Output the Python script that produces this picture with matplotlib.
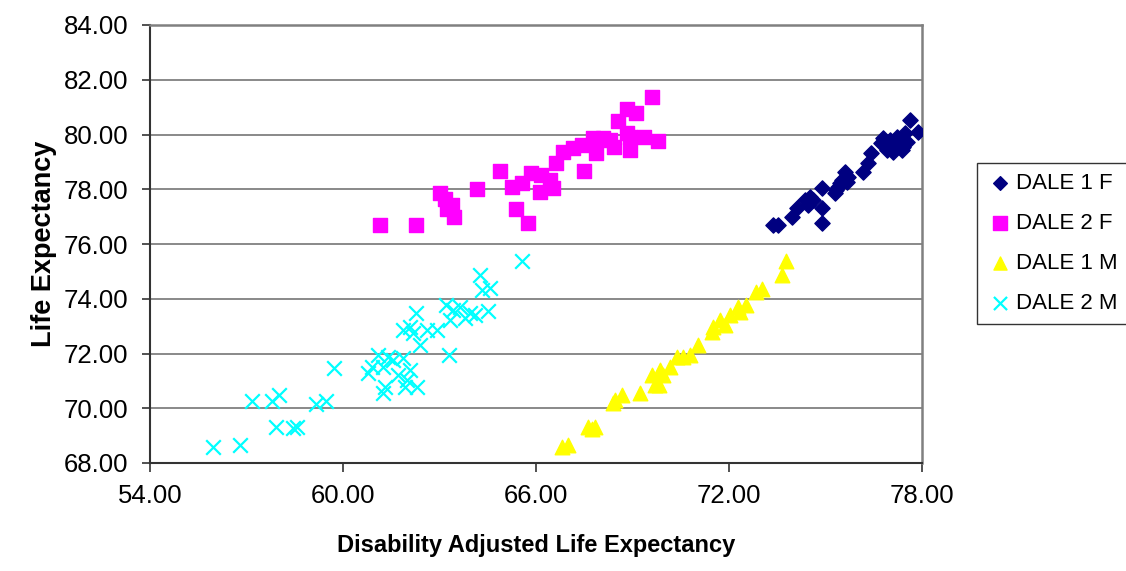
import matplotlib
matplotlib.use("Agg")
import matplotlib.pyplot as plt

plt.rcParams['font.family'] = ['Liberation Sans', 'DejaVu Sans']

# DALE 1 F (navy diamonds)
dale1f_x = [73.37, 73.53, 73.95, 74.10, 74.36, 74.52, 74.62, 74.46, 74.88, 74.88, 74.88,
            75.29, 75.40, 75.50, 75.61, 75.71, 75.45, 75.66, 75.34, 76.17, 76.33, 76.43,
            76.74, 76.79, 76.90, 77.00, 77.11, 77.21, 77.31, 77.37, 77.47, 77.52, 77.42,
            77.11, 77.62, 77.88]
dale1f_y = [76.69, 76.69, 77.00, 77.30, 77.61, 77.73, 77.61, 77.42, 78.03, 77.30, 76.76,
            77.85, 78.09, 78.34, 78.64, 78.46, 78.22, 78.28, 77.97, 78.64, 78.95, 79.31,
            79.68, 79.86, 79.43, 79.80, 79.68, 79.92, 79.80, 79.43, 80.04, 79.74, 79.56,
            79.37, 80.53, 80.08]

# DALE 2 F (magenta squares)
dale2f_x = [61.15, 62.27, 63.01, 63.17, 63.38, 63.22, 63.45, 64.18, 64.88, 65.24, 65.55,
            65.38, 65.75, 65.86, 66.17, 66.12, 66.43, 66.54, 66.62, 66.83, 67.16, 67.42,
            67.49, 67.78, 67.86, 68.09, 68.30, 68.42, 68.56, 68.84, 69.10, 68.84, 68.92,
            69.36, 69.80, 69.60, 68.92]
dale2f_y = [76.69, 76.69, 77.87, 77.63, 77.42, 77.27, 77.00, 78.02, 78.68, 78.09, 78.24,
            77.29, 76.78, 78.60, 78.52, 77.91, 78.34, 78.03, 78.97, 79.37, 79.49, 79.62,
            78.68, 79.86, 79.34, 79.86, 79.80, 79.56, 80.50, 80.92, 80.80, 80.07, 79.43,
            79.92, 79.77, 81.38, 79.92]

# DALE 1 M (yellow triangles)
dale1m_x = [66.80, 67.00, 67.63, 67.83, 67.73, 68.40, 68.45, 68.66, 69.23, 69.62, 69.70,
            69.86, 69.96, 69.83, 70.16, 70.37, 70.57, 70.79, 71.05, 71.46, 71.51, 71.72,
            71.87, 72.03, 72.29, 72.34, 72.54, 72.85, 73.04, 73.66, 73.77]
dale1m_y = [68.57, 68.66, 69.30, 69.30, 69.24, 70.18, 70.30, 70.48, 70.55, 71.21, 70.85,
            71.40, 71.21, 70.85, 71.52, 71.88, 71.88, 71.94, 72.31, 72.80, 72.98, 73.22,
            73.04, 73.41, 73.71, 73.53, 73.77, 74.26, 74.34, 74.87, 75.38]

# DALE 2 M (cyan crosses)
dale2m_x = [55.97, 56.80, 57.16, 57.78, 58.02, 57.92, 58.45, 58.58, 59.16, 59.47, 59.72,
            60.79, 60.89, 61.10, 61.25, 61.30, 61.25, 61.41, 61.56, 61.87, 61.72, 61.98,
            62.08, 61.93, 62.29, 61.87, 62.08, 62.18, 62.27, 62.39, 62.60, 62.91, 63.20,
            63.33, 63.28, 63.43, 63.64, 63.79, 63.95, 64.10, 64.26, 64.31, 64.57, 64.50,
            65.55]
dale2m_y = [68.60, 68.66, 70.28, 70.28, 70.48, 69.33, 69.27, 69.33, 70.16, 70.26, 71.46,
            71.28, 71.52, 71.95, 71.52, 70.79, 70.55, 71.88, 71.76, 71.82, 71.21, 71.03,
            71.40, 70.79, 70.79, 72.86, 72.98, 72.74, 73.49, 72.31, 72.86, 72.86, 73.77,
            73.22, 71.95, 73.59, 73.71, 73.29, 73.47, 73.41, 74.87, 74.32, 74.38, 73.56,
            75.39]

x_ticks = [54, 60, 66, 72, 78]
y_ticks = [68, 70, 72, 74, 76, 78, 80, 82, 84]

fig = plt.figure(figsize=(11.26, 5.71), dpi=100)
ax = fig.add_axes([150 / 1126, 1 - 463 / 571, 772 / 1126, 438 / 571])

ax.scatter(dale1f_x, dale1f_y, marker='D', s=60, color='#000080', label='DALE 1 F', zorder=3)
ax.scatter(dale2f_x, dale2f_y, marker='s', s=110, color='#FF00FF', label='DALE 2 F', zorder=3)
ax.scatter(dale1m_x, dale1m_y, marker='^', s=110, color='#FFFF00', label='DALE 1 M', zorder=3)
ax.scatter(dale2m_x, dale2m_y, marker='x', s=110, color='#00FFFF', linewidths=1.6,
           label='DALE 2 M', zorder=3)

ax.set_xlim(54, 78)
ax.set_ylim(68, 84)
ax.set_xticks(x_ticks)
ax.set_yticks(y_ticks)
ax.set_xticklabels([f"{v:.2f}" for v in x_ticks])
ax.set_yticklabels([f"{v:.2f}" for v in y_ticks])
ax.tick_params(labelsize=18.5, direction='out', length=6, width=1.2, color='#333333')
ax.tick_params(axis='x', pad=8.5, length=6.5)
ax.tick_params(axis='y', pad=9.5)

ax.yaxis.grid(True, color='#808080', linewidth=1.3)
ax.set_axisbelow(True)
for side in ['top', 'right']:
    ax.spines[side].set_color('#808080')
    ax.spines[side].set_linewidth(1.8)
for side in ['left', 'bottom']:
    ax.spines[side].set_color('#333333')
    ax.spines[side].set_linewidth(1.5)

ax.set_xlabel('Disability Adjusted Life Expectancy', fontsize=17, fontweight='bold', labelpad=19)
ax.set_ylabel('Life Expectancy', fontsize=19.5, fontweight='bold', labelpad=5)

leg = fig.legend(loc='upper left', bbox_to_anchor=(977 / 1126, 1 - 163 / 571),
                 bbox_transform=fig.transFigure, borderaxespad=0, fontsize=16,
                 frameon=True, fancybox=False, edgecolor='#000000', handletextpad=0.1,
                 labelspacing=0.85, borderpad=0.45, handlelength=1.2, markerscale=0.9)
leg.get_frame().set_linewidth(1.0)

fig.savefig('out.png', dpi=100)
